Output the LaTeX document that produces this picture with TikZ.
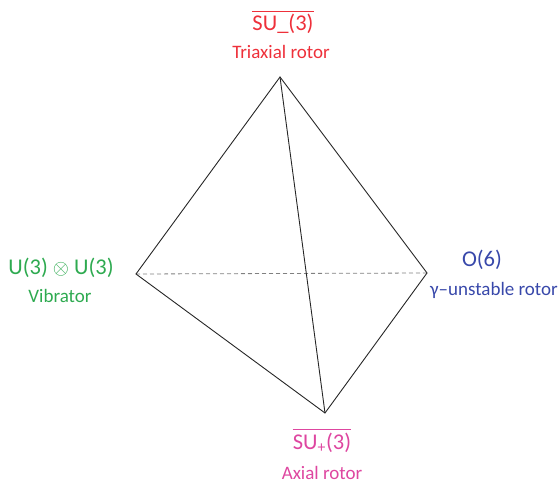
\documentclass[tikz,border=0pt]{standalone}
\usepackage{fontspec}
\setmainfont{Carlito}
\definecolor{cred}{RGB}{238,48,58}
\definecolor{cgreen}{RGB}{46,170,80}
\definecolor{cblue}{RGB}{56,72,170}
\definecolor{cpink}{RGB}{222,70,160}
\begin{document}
\begin{tikzpicture}[x=1pt,y=-1pt,
  edge/.style={draw=black!85,line width=0.9pt},
  big/.style={font=\fontsize{22.5}{26}\selectfont,inner sep=0pt,anchor=base},
  small/.style={font=\fontsize{19}{22}\selectfont,inner sep=0pt,anchor=base},
  ovl/.style={line width=1.6pt}]
\useasboundingbox (0,0) rectangle (558,487);
\coordinate (T) at (280,77);
\coordinate (L) at (136,274);
\coordinate (R) at (427,273);
\coordinate (B) at (325,413);
\draw[dashed,gray,line width=0.8pt,dash pattern=on 4pt off 3pt] (L) -- (R);
\draw[edge] (T) -- (L) -- (B) -- (R) -- cycle;
\draw[edge] (T) -- (B);
% top
\node[big,text=cred] (tl) at (283,31) {SU\_(3)};
\draw[ovl,cred] ([yshift=3pt]tl.north west) -- ([yshift=3pt]tl.north east);
\node[small,text=cred] (tt) at (281,59) {Triaxial rotor};
% left
\node[big,text=cgreen] (ll) at (61,274) {U(3) $\otimes$ U(3)};
\node[small,text=cgreen] (lt) at (60,302) {Vibrator};
% right
\node[big,text=cblue] (rl) at (482,266) {O(6)};
\node[small,text=cblue] (rt) at (494,295) {γ–unstable rotor};
% bottom
\node[big,text=cpink] (bl) at (322,449) {SU\textsubscript{+}(3)};
\draw[ovl,cpink] ([yshift=3pt]bl.north west) -- ([yshift=3pt]bl.north east);
\node[small,text=cpink] (bt) at (322,479) {Axial rotor};
\end{tikzpicture}
\end{document}
